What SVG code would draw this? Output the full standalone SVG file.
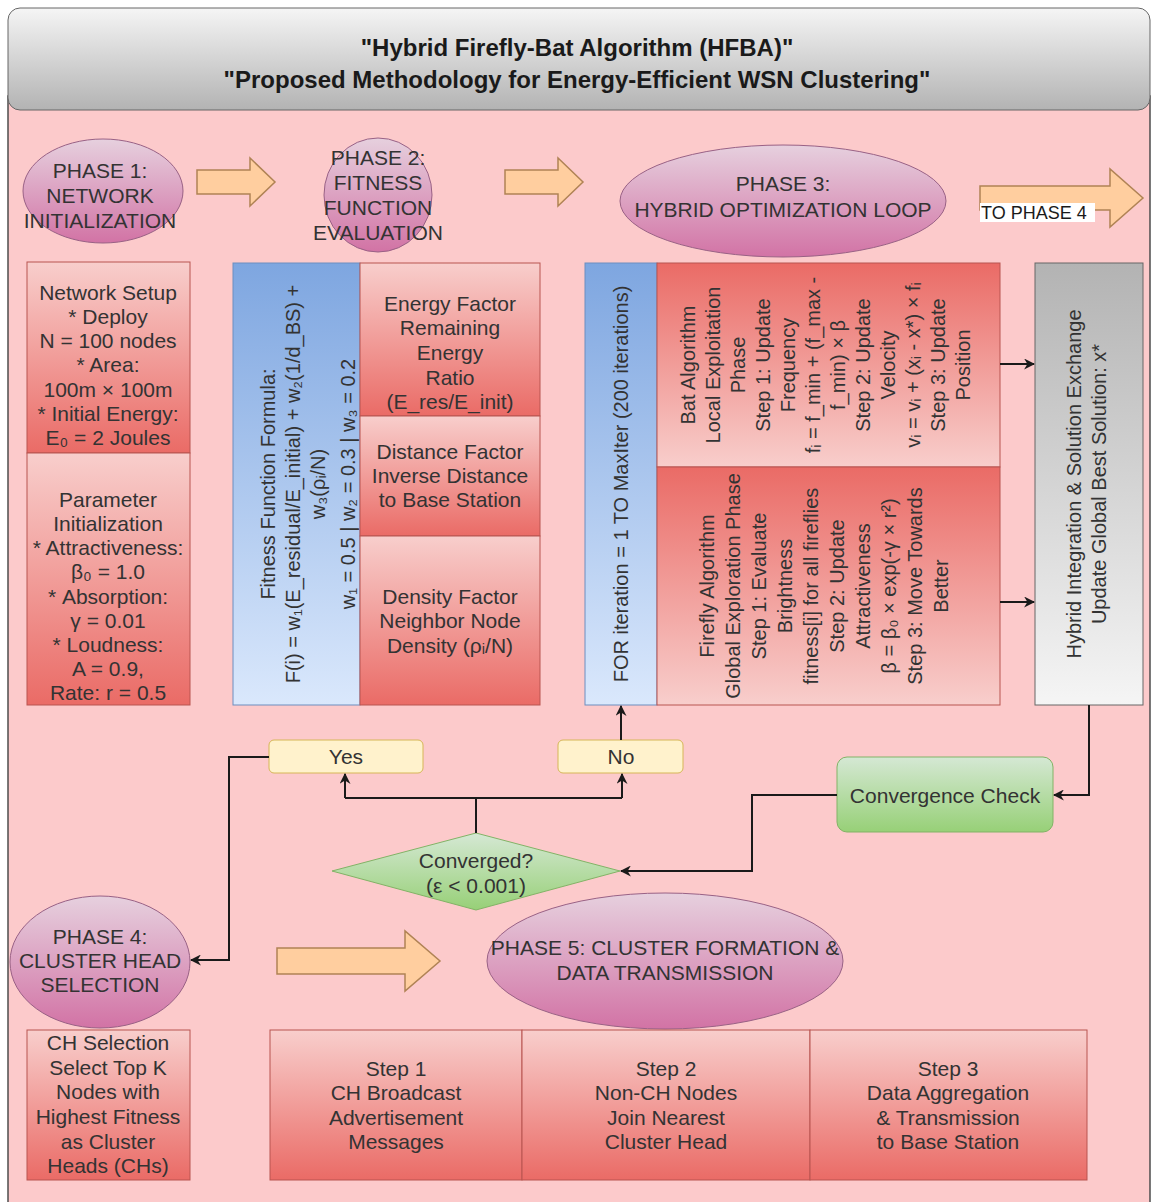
<svg xmlns="http://www.w3.org/2000/svg" width="1154" height="1202" viewBox="0 0 1154 1202">
<defs>
  <linearGradient id="gHead" x1="0" y1="0" x2="0" y2="1"><stop offset="0" stop-color="#F5F5F5"/><stop offset="1" stop-color="#B3B3B3"/></linearGradient>
  <linearGradient id="gPurple" x1="0" y1="0" x2="0" y2="1"><stop offset="0" stop-color="#E6D0DE"/><stop offset="1" stop-color="#D273A5"/></linearGradient>
  <linearGradient id="gRedDown" x1="0" y1="0" x2="0" y2="1"><stop offset="0" stop-color="#F8CECC"/><stop offset="1" stop-color="#EA6B66"/></linearGradient>
  <linearGradient id="gRedUp" x1="0" y1="0" x2="0" y2="1"><stop offset="0" stop-color="#EA6B66"/><stop offset="1" stop-color="#F8CECC"/></linearGradient>
  <linearGradient id="gBlue" x1="0" y1="0" x2="0" y2="1"><stop offset="0" stop-color="#7EA6E0"/><stop offset="1" stop-color="#DAE8FC"/></linearGradient>
  <linearGradient id="gGray" x1="0" y1="0" x2="0" y2="1"><stop offset="0" stop-color="#B3B3B3"/><stop offset="1" stop-color="#F5F5F5"/></linearGradient>
  <linearGradient id="gGreen" x1="0" y1="0" x2="0" y2="1"><stop offset="0" stop-color="#D5E8D4"/><stop offset="1" stop-color="#97D077"/></linearGradient>
  <marker id="arr" viewBox="0 0 10 10" refX="9" refY="5" markerWidth="11" markerHeight="11" markerUnits="userSpaceOnUse" orient="auto">
    <path d="M0,0 L10,5 L0,10 L3,5 Z" fill="#1a1a1a"/>
  </marker>
</defs>
<style>
  .t{font-family:"Liberation Sans",Arial,sans-serif;font-size:21px;fill:#333333;text-anchor:middle;dominant-baseline:central}
  .r{font-size:20px}
  .title{font-family:"Liberation Sans",Arial,sans-serif;font-size:24px;font-weight:bold;fill:#1a1a1a;text-anchor:middle;dominant-baseline:central}
  .ell{fill:url(#gPurple);stroke:#996185;stroke-width:1}
  .red{fill:url(#gRedDown);stroke:#B85450;stroke-width:1}
  .redup{fill:url(#gRedUp);stroke:#B85450;stroke-width:1}
  .blue{fill:url(#gBlue);stroke:#6C8EBF;stroke-width:1}
  .barrow{fill:#FFCE9F;stroke:#B08355;stroke-width:1.5}
  .yn{fill:#FFF2CC;stroke:#D6B656;stroke-width:1}
  .green{fill:url(#gGreen);stroke:#82B366;stroke-width:1}
  .conn{fill:none;stroke:#1a1a1a;stroke-width:2}
</style>

<g id="container">
  <rect x="8" y="96" width="1142" height="1120" fill="#FCCACB" stroke="#4d4d4d" stroke-width="1.5"/>
  <rect x="8" y="8" width="1142" height="102" rx="12" ry="12" fill="url(#gHead)" stroke="#666666" stroke-width="1"/>
  <text class="title" x="577" y="47">"Hybrid Firefly-Bat Algorithm (HFBA)"</text>
  <text class="title" x="577" y="79">"Proposed Methodology for Energy-Efficient WSN Clustering"</text>
</g>

<g id="phase1">
  <ellipse class="ell" cx="103" cy="191" rx="80" ry="52"/>
  <text class="t"><tspan x="100" y="170">PHASE 1:</tspan><tspan x="100" y="195">NETWORK</tspan><tspan x="100" y="220">INITIALIZATION</tspan></text>
</g>
<g id="network-setup">
  <rect class="red" x="27" y="262" width="163" height="191"/>
  <text class="t"><tspan x="108" y="292">Network Setup</tspan><tspan x="108" y="316">* Deploy</tspan><tspan x="108" y="340">N = 100 nodes</tspan><tspan x="108" y="364">* Area:</tspan><tspan x="108" y="389">100m × 100m</tspan><tspan x="108" y="413">* Initial Energy:</tspan><tspan x="108" y="437">E₀ = 2 Joules</tspan></text>
</g>
<g id="parameter-init">
  <rect class="red" x="27" y="453" width="163" height="252"/>
  <text class="t"><tspan x="108" y="499">Parameter</tspan><tspan x="108" y="523">Initialization</tspan><tspan x="108" y="547">* Attractiveness:</tspan><tspan x="108" y="571">β₀ = 1.0</tspan><tspan x="108" y="596">* Absorption:</tspan><tspan x="108" y="620">γ = 0.01</tspan><tspan x="108" y="644">* Loudness:</tspan><tspan x="108" y="668">A = 0.9,</tspan><tspan x="108" y="692">Rate: r = 0.5</tspan></text>
</g>

<g id="arrow-1-2"><path class="barrow" d="M197,170 L250,170 L250,158 L275,182 L250,206 L250,194 L197,194 Z"/></g>

<g id="phase2">
  <ellipse class="ell" cx="378" cy="195" rx="54" ry="57"/>
  <text class="t"><tspan x="378" y="157">PHASE 2:</tspan><tspan x="378" y="182">FITNESS</tspan><tspan x="378" y="207">FUNCTION</tspan><tspan x="378" y="232">EVALUATION</tspan></text>
</g>
<g id="fitness-formula">
  <rect class="blue" x="233" y="263" width="127" height="442"/>
  <text class="t r" transform="rotate(-90 296 484)"><tspan x="296" y="456">Fitness Function Formula:</tspan><tspan x="296" y="481">F(i) = w₁(E_residual/E_initial) + w₂(1/d_BS) +</tspan><tspan x="296" y="506">w₃(ρᵢ/N)</tspan><tspan x="296" y="536">w₁ = 0.5  |  w₂ = 0.3  |  w₃ = 0.2</tspan></text>
</g>
<g id="energy-factor">
  <rect class="red" x="360" y="263" width="180" height="153"/>
  <text class="t"><tspan x="450" y="303">Energy Factor</tspan><tspan x="450" y="327">Remaining</tspan><tspan x="450" y="352">Energy</tspan><tspan x="450" y="377">Ratio</tspan><tspan x="450" y="401">(E_res/E_init)</tspan></text>
</g>
<g id="distance-factor">
  <rect class="red" x="360" y="416" width="180" height="120"/>
  <text class="t"><tspan x="450" y="451">Distance Factor</tspan><tspan x="450" y="475">Inverse Distance</tspan><tspan x="450" y="499">to Base Station</tspan></text>
</g>
<g id="density-factor">
  <rect class="red" x="360" y="536" width="180" height="169"/>
  <text class="t"><tspan x="450" y="596">Density Factor</tspan><tspan x="450" y="620">Neighbor Node</tspan><tspan x="450" y="645">Density (ρᵢ/N)</tspan></text>
</g>

<g id="arrow-2-3"><path class="barrow" d="M505,170 L558,170 L558,158 L583,182 L558,206 L558,194 L505,194 Z"/></g>

<g id="phase3">
  <ellipse class="ell" cx="783" cy="201" rx="163" ry="56"/>
  <text class="t"><tspan x="783" y="183">PHASE 3:</tspan><tspan x="783" y="209">HYBRID OPTIMIZATION LOOP</tspan></text>
</g>
<g id="arrow-to-phase4">
  <path class="barrow" d="M980,186 L1110,186 L1110,169 L1143,198 L1110,227 L1110,210 L980,210 Z"/>
  <rect x="980" y="203" width="115" height="19" fill="#FFFFFF"/>
  <text x="981" y="213" style="font-family:'Liberation Sans',Arial,sans-serif;font-size:18px;fill:#1a1a1a;dominant-baseline:central">TO PHASE 4</text>
</g>
<g id="for-loop">
  <rect class="blue" x="585" y="263" width="72" height="442"/>
  <text class="t r" transform="rotate(-90 621 484)"><tspan x="621" y="484">FOR iteration = 1 TO MaxIter (200 iterations)</tspan></text>
</g>
<g id="bat-algorithm">
  <rect class="redup" x="657" y="263" width="343" height="204"/>
  <text class="t r" transform="rotate(-90 828 365)"><tspan x="828" y="225">Bat Algorithm</tspan><tspan x="828" y="250">Local Exploitation</tspan><tspan x="828" y="275">Phase</tspan><tspan x="828" y="300">Step 1: Update</tspan><tspan x="828" y="325">Frequency</tspan><tspan x="828" y="350">fᵢ = f_min + (f_max -</tspan><tspan x="828" y="375">f_min) × β</tspan><tspan x="828" y="400">Step 2: Update</tspan><tspan x="828" y="425">Velocity</tspan><tspan x="828" y="450">vᵢ = vᵢ + (xᵢ - x*) × fᵢ</tspan><tspan x="828" y="475">Step 3: Update</tspan><tspan x="828" y="500">Position</tspan></text>
</g>
<g id="firefly-algorithm">
  <rect class="redup" x="657" y="467" width="343" height="238"/>
  <text class="t r" transform="rotate(-90 828 586)"><tspan x="828" y="465">Firefly Algorithm</tspan><tspan x="828" y="491">Global Exploration Phase</tspan><tspan x="828" y="517">Step 1: Evaluate</tspan><tspan x="828" y="543">Brightness</tspan><tspan x="828" y="569">fitness[i] for all fireflies</tspan><tspan x="828" y="595">Step 2: Update</tspan><tspan x="828" y="621">Attractiveness</tspan><tspan x="828" y="647">β = β₀ × exp(-γ × r²)</tspan><tspan x="828" y="673">Step 3: Move Towards</tspan><tspan x="828" y="699">Better</tspan></text>
</g>
<g id="hybrid-integration">
  <rect x="1035" y="263" width="108" height="442" fill="url(#gGray)" stroke="#666666" stroke-width="1"/>
  <text class="t r" transform="rotate(-90 1089 484)"><tspan x="1089" y="469">Hybrid Integration &amp; Solution Exchange</tspan><tspan x="1089" y="494">Update Global Best Solution: x*</tspan></text>
</g>

<g id="convergence-check">
  <rect class="green" x="837" y="757" width="216" height="75" rx="10" ry="10"/>
  <text class="t" x="945" y="795">Convergence Check</text>
</g>
<g id="converged-decision">
  <path class="green" d="M476,833 L620,871 L476,910 L332,871 Z"/>
  <text class="t"><tspan x="476" y="860">Converged?</tspan><tspan x="476" y="885">(ε &lt; 0.001)</tspan></text>
</g>
<g id="yes">
  <rect class="yn" x="269" y="740" width="154" height="33" rx="5" ry="5"/>
  <text class="t" x="346" y="756">Yes</text>
</g>
<g id="no">
  <rect class="yn" x="558" y="740" width="125" height="33" rx="5" ry="5"/>
  <text class="t" x="621" y="756">No</text>
</g>

<g id="phase4">
  <ellipse class="ell" cx="100" cy="962" rx="90" ry="66"/>
  <text class="t"><tspan x="100" y="936">PHASE 4:</tspan><tspan x="100" y="960">CLUSTER HEAD</tspan><tspan x="100" y="984">SELECTION</tspan></text>
</g>
<g id="ch-selection">
  <rect class="red" x="27" y="1030" width="163" height="150"/>
  <text class="t"><tspan x="108" y="1042">CH Selection</tspan><tspan x="108" y="1067">Select Top K</tspan><tspan x="108" y="1091">Nodes with</tspan><tspan x="108" y="1116">Highest Fitness</tspan><tspan x="108" y="1141">as Cluster</tspan><tspan x="108" y="1165">Heads (CHs)</tspan></text>
</g>
<g id="arrow-4-5"><path class="barrow" d="M277,948 L405,948 L405,931 L440,961 L405,991 L405,974 L277,974 Z"/></g>
<g id="phase5">
  <ellipse class="ell" cx="665" cy="961" rx="178" ry="68"/>
  <text class="t"><tspan x="665" y="947">PHASE 5: CLUSTER FORMATION &amp;</tspan><tspan x="665" y="972">DATA TRANSMISSION</tspan></text>
</g>
<g id="step1">
  <rect class="red" x="270" y="1030" width="252" height="150"/>
  <text class="t"><tspan x="396" y="1068">Step 1</tspan><tspan x="396" y="1092">CH Broadcast</tspan><tspan x="396" y="1117">Advertisement</tspan><tspan x="396" y="1141">Messages</tspan></text>
</g>
<g id="step2">
  <rect class="red" x="522" y="1030" width="288" height="150"/>
  <text class="t"><tspan x="666" y="1068">Step 2</tspan><tspan x="666" y="1092">Non-CH Nodes</tspan><tspan x="666" y="1117">Join Nearest</tspan><tspan x="666" y="1141">Cluster Head</tspan></text>
</g>
<g id="step3">
  <rect class="red" x="810" y="1030" width="277" height="150"/>
  <text class="t"><tspan x="948" y="1068">Step 3</tspan><tspan x="948" y="1092">Data Aggregation</tspan><tspan x="948" y="1117">&amp; Transmission</tspan><tspan x="948" y="1141">to Base Station</tspan></text>
</g>

<g id="connectors">
  <path class="conn" d="M1000,364 L1034,364" marker-end="url(#arr)"/>
  <path class="conn" d="M1000,602 L1034,602" marker-end="url(#arr)"/>
  <path class="conn" d="M1089,705 L1089,795 L1054,795" marker-end="url(#arr)"/>
  <path class="conn" d="M837,795 L752,795 L752,871 L621,871" marker-end="url(#arr)"/>
  <path class="conn" d="M476,833 L476,798"/>
  <path class="conn" d="M345,798 L622,798"/>
  <path class="conn" d="M345,798 L345,774" marker-end="url(#arr)"/>
  <path class="conn" d="M622,798 L622,774" marker-end="url(#arr)"/>
  <path class="conn" d="M621,740 L621,706" marker-end="url(#arr)"/>
  <path class="conn" d="M269,757 L229,757 L229,960 L191,960" marker-end="url(#arr)"/>
</g>
</svg>
